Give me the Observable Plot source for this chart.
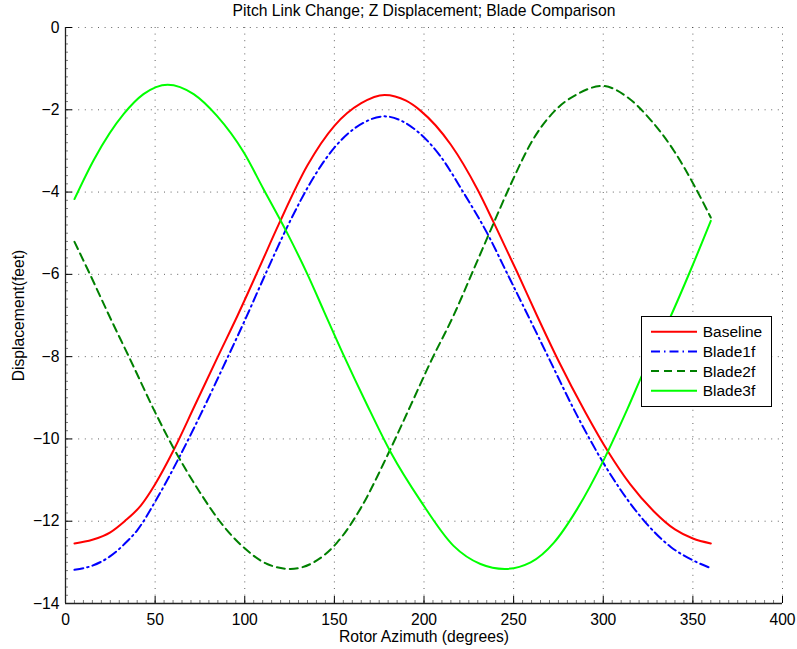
<!DOCTYPE html>
<html><head><meta charset="utf-8">
<script src="https://cdn.jsdelivr.net/npm/d3@7"></script>
<script src="https://cdn.jsdelivr.net/npm/@observablehq/plot@0.6"></script>
<style>
html,body{margin:0;padding:0;background:#fff;}
#wrap{position:relative;width:797px;height:649px;}
#legend{position:absolute;left:641px;top:316px;}
</style></head><body><div id="wrap"></div>
<script>
const titleText = "Pitch Link Change; Z Displacement; Blade Comparison";
const xLabel = "Rotor Azimuth (degrees)";
const yLabel = "Displacement(feet)";

const seriesNames = ["Baseline", "Blade1f", "Blade2f", "Blade3f"];
const seriesColors = ["#ff0000", "#0000ff", "#008000", "#00ff00"];
const seriesDash = [null, "9,4,1.5,4", "8,5", null];

const baselineX = [5, 15, 25, 33, 42, 50, 60, 72, 85, 96, 108, 119, 135, 150, 165, 178, 190, 198, 215, 230, 239, 252, 263, 275, 290, 303, 315, 328, 340, 350, 360];
const baselineY = [-12.54, -12.45, -12.27, -12.0, -11.62, -11.1, -10.3, -9.2, -8.0, -7.0, -5.85, -4.78, -3.35, -2.39, -1.84, -1.64, -1.78, -2.02, -2.85, -3.95, -4.75, -5.95, -7.0, -8.1, -9.35, -10.33, -11.1, -11.75, -12.2, -12.42, -12.54];

const blade1fX = [5, 15, 25, 33, 40, 51, 64, 75, 90, 99.5, 112, 124, 139, 150, 166.5, 178, 188, 197, 209, 222, 235, 248, 258, 269, 285.5, 301, 319, 337.5, 350, 360];
const blade1fY = [-13.18, -13.08, -12.85, -12.55, -12.22, -11.45, -10.4, -9.44, -8.06, -7.17, -5.95, -4.82, -3.6, -2.92, -2.31, -2.16, -2.28, -2.55, -3.12, -4.01, -4.98, -6.12, -7.0, -7.98, -9.44, -10.65, -11.79, -12.62, -12.95, -13.14];

const blade2fX = [5, 14, 24, 36, 51, 60, 75, 88, 99.5, 112.5, 125.5, 140, 151.5, 164.5, 179.5, 192.5, 204, 216.5, 228, 239, 248, 261, 274, 285.5, 299.5, 313, 326.5, 339.5, 350.5, 360];
const blade2fY = [-5.21, -6.03, -6.97, -8.06, -9.44, -10.2, -11.3, -12.11, -12.64, -13.04, -13.16, -12.96, -12.52, -11.7, -10.41, -9.19, -8.1, -7.0, -5.85, -4.74, -3.85, -2.71, -1.98, -1.62, -1.42, -1.68, -2.25, -3.0, -3.82, -4.62];

const blade3fX = [5, 16, 32.5, 43.5, 57, 71.5, 84.5, 99.5, 110.5, 123.5, 135, 144, 155, 168, 181.5, 198, 216.5, 231.5, 245, 259.5, 272.5, 285.5, 300.5, 313.5, 322.5, 337.5, 349, 360];
const blade3fY = [-4.17, -3.2, -2.1, -1.62, -1.39, -1.62, -2.15, -3.04, -3.93, -4.98, -6.0, -6.88, -7.95, -9.15, -10.33, -11.5, -12.6, -13.04, -13.16, -13.0, -12.52, -11.7, -10.49, -9.27, -8.37, -7.03, -5.87, -4.7];

const xTicks = [0, 50, 100, 150, 200, 250, 300, 350, 400];
const yTicks = [-14, -12, -10, -8, -6, -4, -2, 0];
const xMinorStep = 5;
const yMinorStep = 0.2;

const seriesX = [baselineX, blade1fX, blade2fX, blade3fX];
const seriesY = [baselineY, blade1fY, blade2fY, blade3fY];
const rows = seriesNames.map((name, s) => seriesX[s].map((x, i) => ({series: name, x, y: seriesY[s][i]})));

const xMinor = d3.range(0, 400 + 1e-9, xMinorStep);
const yMinor = d3.range(-14, 0 + 1e-9, yMinorStep).map(v => Math.round(v * 10) / 10);

const W = 797, H = 649, mL = 65, mR = 15, mT = 27, mB = 46;
const plotW = W - mL - mR, plotH = H - mT - mB;
const font = "'Liberation Sans', Arial, Helvetica, sans-serif";
const fs = 15.7;

const lineMarks = rows.map((data, s) => Plot.line(data, {
  x: "x", y: "y", stroke: seriesColors[s], strokeWidth: 2,
  strokeDasharray: seriesDash[s] ?? undefined, curve: "monotone-x"
}));

const chart = Plot.plot({
  width: W, height: H,
  marginLeft: mL, marginRight: mR, marginTop: mT, marginBottom: mB,
  style: {fontSize: fs + "px", fontFamily: font, color: "#000", background: "#fff"},
  x: {domain: [0, 400]},
  y: {domain: [-14, 0]},
  marks: [
    Plot.gridX(xTicks, {stroke: "#333", strokeOpacity: 0.85, strokeWidth: 0.9, strokeDasharray: "1,5.6"}),
    Plot.gridY(yTicks, {stroke: "#333", strokeOpacity: 0.85, strokeWidth: 0.9, strokeDasharray: "1,5.6"}),
    ...lineMarks,
    Plot.tickX(xMinor, {x: d => d, insetTop: plotH - 3, stroke: "#444", strokeWidth: 0.7}),
    Plot.tickY(yMinor, {y: d => d, insetRight: plotW - 3, stroke: "#444", strokeWidth: 0.7}),
    Plot.tickX(xTicks, {x: d => d, insetTop: plotH - 7, stroke: "#000", strokeWidth: 1}),
    Plot.tickY(yTicks, {y: d => d, insetRight: plotW - 7, stroke: "#000", strokeWidth: 1}),
    Plot.ruleX([0], {stroke: "#222", strokeWidth: 1.3}),
    Plot.ruleY([-14], {stroke: "#222", strokeWidth: 1.3}),
    Plot.axisX({ticks: xTicks, tickSize: 0, tickPadding: 10, label: null, tickFormat: d => String(d)}),
    Plot.axisY({ticks: yTicks, tickSize: 0, tickPadding: 6, label: null}),
    Plot.text([titleText], {frameAnchor: "top", dy: -17, lineAnchor: "middle", fontSize: fs}),
    Plot.text([xLabel], {frameAnchor: "bottom", dy: 33, lineAnchor: "middle", fontSize: fs}),
    Plot.text([yLabel], {frameAnchor: "left", dx: -47, rotate: -90, lineAnchor: "middle", textAnchor: "middle", fontSize: fs})
  ]
});
const wrap = document.getElementById("wrap");
wrap.appendChild(chart);

// legend
const lg = d3.select(wrap).append("svg").attr("id", "legend")
  .attr("width", 132).attr("height", 92)
  .style("font-family", font).style("font-size", "15.5px");
lg.append("rect").attr("x", 0.5).attr("y", 0.5).attr("width", 130).attr("height", 90)
  .attr("fill", "#fff").attr("stroke", "#000").attr("stroke-width", 1);
seriesNames.forEach((name, s) => {
  const cy = 15.7 + s * 19.7;
  const ln = lg.append("line").attr("x1", 10).attr("x2", 56).attr("y1", cy).attr("y2", cy)
    .attr("stroke", seriesColors[s]).attr("stroke-width", 2);
  if (seriesDash[s]) ln.attr("stroke-dasharray", seriesDash[s]);
  lg.append("text").attr("x", 61.7).attr("y", cy + 5.4).text(name);
});
</script></body></html>
